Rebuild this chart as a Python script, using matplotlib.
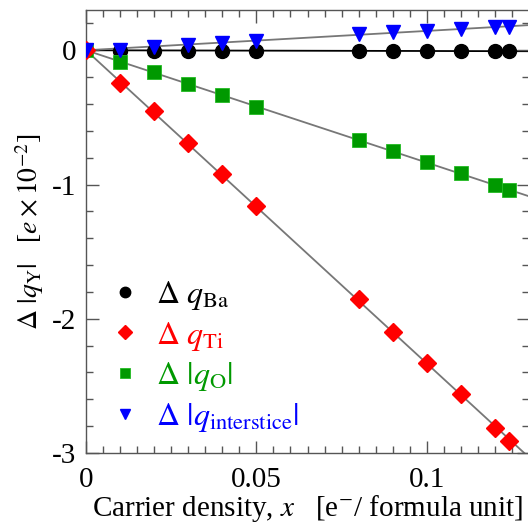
import matplotlib
matplotlib.use("Agg")
import matplotlib.pyplot as plt
from matplotlib.ticker import MultipleLocator, FuncFormatter
import numpy as np

plt.rcParams["font.family"] = ["Liberation Serif", "DejaVu Serif"]
plt.rcParams["mathtext.fontset"] = "stix"
plt.rcParams["axes.unicode_minus"] = False

# Données
x = np.array([0, 0.01, 0.02, 0.03, 0.04, 0.05, 0.08, 0.09, 0.10, 0.11, 0.12, 0.124])
dq_ba = np.array([0, -0.005, -0.005, -0.005, -0.005, -0.005, -0.005, -0.005, -0.005, -0.005, -0.005, -0.005])
dq_ti = np.array([0, -0.244, -0.453, -0.692, -0.925, -1.157, -1.853, -2.097, -2.326, -2.557, -2.816, -2.91])
dq_o = np.array([0, -0.087, -0.162, -0.254, -0.336, -0.423, -0.667, -0.754, -0.836, -0.913, -1.007, -1.04])
dq_int = np.array([0, 0.0, 0.025, 0.042, 0.057, 0.07, 0.124, 0.134, 0.144, 0.157, 0.174, 0.174])

fig = plt.figure(figsize=(5.28, 5.23), dpi=100)
ax = fig.add_axes([86 / 528, 1 - 453 / 523, 443 / 528, 443 / 523])

xf = np.array([0, 0.14])


def fit0(y):
    # régression linéaire passant par l'origine
    return np.sum(x * y) / np.sum(x * x)


ax.plot(xf, fit0(dq_ba) * xf, color="black", lw=1.3, zorder=1)
for y in (dq_ti, dq_o, dq_int):
    ax.plot(xf, fit0(y) * xf, color="#777777", lw=1.3, zorder=1)

h_ba, = ax.plot(x, dq_ba, "o", ms=10, color="black", mec="black", zorder=3)
h_o, = ax.plot(x, dq_o, "s", ms=10, color="#009900", mec="#22bb22", mew=0.6, zorder=3)
h_ti, = ax.plot(x, dq_ti, "D", ms=9, color="#ff0000", mec="#ff0000", zorder=4)
h_int, = ax.plot(x, dq_int, "v", ms=10, color="#0000ff", mec="#0000ff", zorder=5)

ax.set_xlim(0, 0.13)
ax.set_ylim(-3, 0.3)
ax.xaxis.set_major_locator(MultipleLocator(0.05))
ax.xaxis.set_minor_locator(MultipleLocator(0.005))
ax.yaxis.set_major_locator(MultipleLocator(1))
ax.yaxis.set_minor_locator(MultipleLocator(0.2))
ax.xaxis.set_major_formatter(FuncFormatter(lambda v, p: f"{v:g}"))
ax.yaxis.set_major_formatter(FuncFormatter(lambda v, p: f"{v:g}"))
ax.tick_params(which="both", direction="in", top=True, right=True,
               labelsize=21, colors="#555555", labelcolor="black")
ax.tick_params(which="major", length=9, width=1)
ax.tick_params(which="minor", length=5, width=1)
ax.tick_params(axis="x", pad=10)
ax.tick_params(axis="y", pad=7)
for s in ax.spines.values():
    s.set_color("#555555")
    s.set_linewidth(1)

ax.set_xlabel(r"Carrier density, $x$   [e$^{-}$/ formula unit]", fontsize=21, labelpad=0)
ax.set_ylabel(r"$\Delta\ |q_{\rm Y}|$   [$e\times10^{-2}$]", fontsize=20, labelpad=4)

leg = ax.legend([h_ba, h_ti, h_o, h_int],
                [r"$\Delta\ q_{\rm Ba}$", r"$\Delta\ q_{\rm Ti}$",
                 r"$\Delta\ |q_{\rm O}|$", r"$\Delta\ |q_{\rm interstice}|$"],
                loc="upper left", bbox_to_anchor=(-0.014, 0.458), frameon=False,
                fontsize=23, labelcolor="markerfacecolor", handletextpad=0.5,
                labelspacing=0.24, markerscale=0.75, handlelength=1.0)

fig.savefig("out.png", dpi=100)
